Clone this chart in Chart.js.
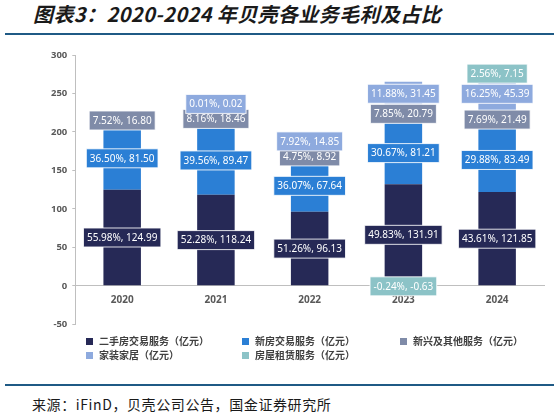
<!DOCTYPE html>
<html lang="zh">
  <head>
    <meta charset="UTF-8" />
    <title>2020-2024 年贝壳各业务毛利及占比</title>
    <style>
      body {
        margin: 0;
        width: 559px;
        height: 416px;
        position: relative;
        background: #fff;
        font-family: "Noto Sans CJK SC", "Noto Sans", sans-serif;
        overflow: hidden;
      }
      #titulo {
        position: absolute;
        left: 33px;
        top: 1px;
        font-size: 20px;
        letter-spacing: 0.4px;
        font-weight: bold;
        font-style: italic;
        color: #1a1a1a;
        line-height: 26px;
        white-space: nowrap;
      }
      .linea {
        position: absolute;
        left: 5px;
        width: 549px;
        height: 2px;
        background: #1f5a85;
      }
      #caja {
        position: absolute;
        left: 0;
        top: 40px;
        width: 559px;
        height: 295px;
      }
      #leyenda {
        position: absolute;
        left: 0;
        top: 334px;
        width: 559px;
        height: 30px;
      }
      .item {
        position: absolute;
        font-size: 10px;
        font-weight: bold;
        color: #404040;
        white-space: nowrap;
        line-height: 14px;
      }
      .item span {
        display: inline-block;
        width: 7px;
        height: 7px;
        margin-right: 6px;
        vertical-align: 0px;
      }
      #fuente {
        position: absolute;
        left: 32px;
        top: 394px;
        font-size: 14px;
        letter-spacing: 0.6px;
        color: #1a1a1a;
        white-space: nowrap;
      }
    </style>
  </head>
  <body>
    <div id="titulo">图表3：2020-2024 年贝壳各业务毛利及占比</div>
    <div class="linea" style="top: 33px"></div>
    <div id="caja"><canvas id="grafico"></canvas></div>
    <div id="leyenda"></div>
    <div class="linea" style="top: 384px"></div>
    <div id="fuente">来源：iFinD，贝壳公司公告，国金证券研究所</div>

    <script src="https://cdn.jsdelivr.net/npm/chart.js"></script>
    <script>
      const anios = ["2020", "2021", "2022", "2023", "2024"];
      const series = [
        "二手房交易服务（亿元）",
        "新房交易服务（亿元）",
        "新兴及其他服务（亿元）",
        "家装家居（亿元）",
        "房屋租赁服务（亿元）",
      ];
      const colores = ["#262956", "#2b7fd5", "#7f8ba8", "#8eaade", "#8cc3c7"];

      // gross profit, 100M yuan
      const segunda = [124.99, 118.24, 96.13, 131.91, 121.85];
      const nueva = [81.5, 89.47, 67.64, 81.21, 83.49];
      const otros = [16.8, 18.46, 8.92, 20.79, 21.49];
      const hogar = [null, 0.02, 14.85, 31.45, 45.39];
      const alquiler = [null, null, null, -0.63, 7.15];

      // share of total gross profit
      const pctSegunda = ["55.98%", "52.28%", "51.26%", "49.83%", "43.61%"];
      const pctNueva = ["36.50%", "39.56%", "36.07%", "30.67%", "29.88%"];
      const pctOtros = ["7.52%", "8.16%", "4.75%", "7.85%", "7.69%"];
      const pctHogar = [null, "0.01%", "7.92%", "11.88%", "16.25%"];
      const pctAlquiler = [null, null, null, "-0.24%", "2.56%"];

      const ejeY = { min: -50, max: 300, paso: 50 };

      const valores = [segunda, nueva, otros, hogar, alquiler];
      const porcentajes = [pctSegunda, pctNueva, pctOtros, pctHogar, pctAlquiler];

      // boxed labels "pct, value" in the middle of each segment
      const etiquetas = {
        id: "etiquetas",
        afterDatasetsDraw(chart) {
          const ctx = chart.ctx;
          ctx.save();
          ctx.font = "10px 'Noto Sans', sans-serif";
          ctx.textAlign = "center";
          ctx.textBaseline = "middle";
          const alto = 19;
          for (let i = 0; i < anios.length; i++) {
            let techo = Infinity;
            for (let d = 0; d < valores.length; d++) {
              const v = valores[d][i];
              if (v === null) continue;
              const el = chart.getDatasetMeta(d).data[i];
              const texto = porcentajes[d][i] + ", " + v.toFixed(2);
              const ancho = ctx.measureText(texto).width + 7;
              let yc = (el.y + el.base) / 2;
              if (v > 0) {
                // push up small segments so boxes do not pile on each other
                if (yc + alto / 2 > techo + 4) yc = techo + 4 - alto / 2;
                techo = yc - alto / 2;
              }
              ctx.fillStyle = colores[d];
              ctx.fillRect(el.x - ancho / 2, yc - alto / 2, ancho, alto);
              ctx.strokeStyle = "rgba(255,255,255,0.85)";
              ctx.lineWidth = 1;
              ctx.strokeRect(el.x - ancho / 2, yc - alto / 2, ancho, alto);
              ctx.fillStyle = "#ffffff";
              ctx.fillText(texto, el.x, yc + 0.5);
            }
          }
          ctx.restore();
        },
      };

      const contexto = document.getElementById("grafico").getContext("2d");
      const grafico = new Chart(contexto, {
        type: "bar",
        data: {
          labels: anios,
          datasets: series.map((nombre, d) => ({
            label: nombre,
            data: valores[d],
            backgroundColor: colores[d],
            borderWidth: 0,
            barPercentage: 0.4,
            categoryPercentage: 1,
          })),
        },
        options: {
          responsive: true,
          maintainAspectRatio: false,
          animation: false,
          layout: { padding: { left: 46, right: 15, top: 15, bottom: 8 } },
          plugins: {
            legend: { display: false },
            tooltip: { enabled: false },
          },
          scales: {
            x: {
              stacked: true,
              position: { y: 0 },
              grid: { drawOnChartArea: false, drawTicks: false },
              border: { color: "#bfbfbf", width: 1 },
              ticks: {
                padding: 8,
                color: "#595959",
                font: { family: "'Noto Sans', sans-serif", size: 10, weight: "bold" },
              },
            },
            y: {
              stacked: true,
              min: ejeY.min,
              max: ejeY.max,
              grid: { drawOnChartArea: false, tickLength: 3, color: "#bfbfbf" },
              border: { color: "#bfbfbf", width: 1 },
              ticks: {
                stepSize: ejeY.paso,
                padding: 5,
                color: "#595959",
                font: { family: "'Noto Sans', sans-serif", size: 9.5, weight: "bold" },
              },
            },
          },
        },
        plugins: [etiquetas],
      });

      // legend in a 3-column grid, like the source
      const columnas = [86, 242, 400];
      const leyenda = document.getElementById("leyenda");
      series.forEach((nombre, d) => {
        const item = document.createElement("div");
        item.className = "item";
        item.style.left = columnas[d % 3] + "px";
        item.style.top = Math.floor(d / 3) * 14 + "px";
        item.innerHTML = '<span style="background:' + colores[d] + '"></span>' + nombre;
        leyenda.appendChild(item);
      });
    </script>
  </body>
</html>
